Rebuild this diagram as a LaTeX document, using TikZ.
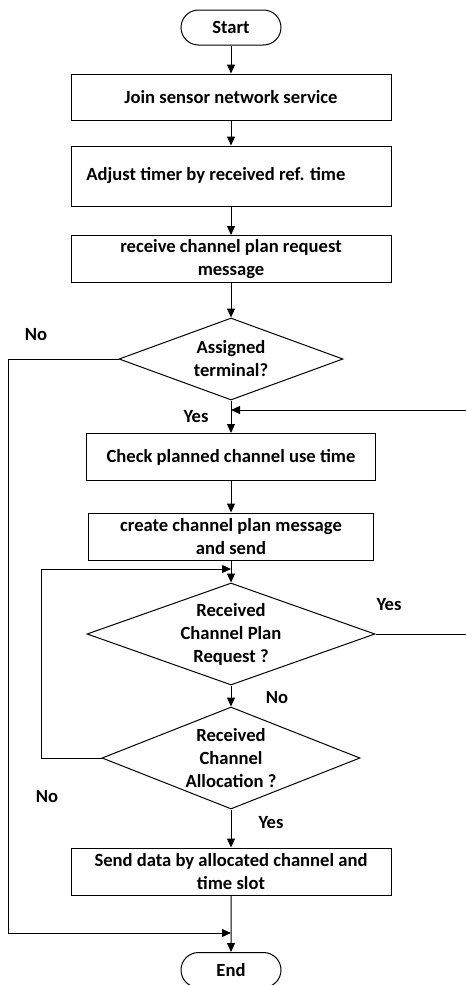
\documentclass[tikz,border=0pt]{standalone}
\usepackage{fontspec}
\setmainfont{Carlito}
\usetikzlibrary{arrows.meta,shapes.geometric,shapes.misc}
\tikzset{
	txt/.style={font=\fontsize{18.6}{23}\selectfont\bfseries, align=center},
	procbox/.style={draw, line width=1pt, txt, inner sep=0pt},
	termbox/.style={draw, line width=1pt, txt, rounded rectangle, inner sep=0pt, minimum width=100pt, minimum height=35pt},
	decbox/.style={draw, line width=1pt, diamond, inner sep=0pt},
	arr/.style={line width=1pt, -{Triangle[length=9pt,width=8pt]}},
	ln/.style={line width=1pt}
}

\begin{document}
\begin{tikzpicture}[x=1pt, y=-1pt]
			%%%%% START %%%%%
			\useasboundingbox (0, 0) rectangle (466, 985);
			
			\node[termbox] (start) at (231, 27.5) {Start};
			\node[procbox, minimum width=320pt, minimum height=46pt] (join) at (231, 97) {Join sensor network service};
			\node[procbox, minimum width=320pt, minimum height=60pt, label={[txt, xshift=-15pt]center:Adjust timer by received ref. time}] (adjust) at (231, 176) {};
			\node[procbox, minimum width=320pt, minimum height=47pt] (recv) at (231, 259) {receive channel plan request\\message};
			
			\node[decbox, minimum width=224pt, minimum height=82pt, label={[txt]center:Assigned\\terminal?}] (assigned) at (231, 359) {};
			
			\node[procbox, minimum width=289pt, minimum height=47pt] (check) at (231, 457) {Check planned channel use time};
			\node[procbox, minimum width=285pt, minimum height=47pt] (create) at (231, 536.5) {create channel plan message\\and send};
			
			\node[decbox, minimum width=288pt, minimum height=102pt, label={[txt]center:Received\\Channel Plan\\Request ?}] (planreq) at (231, 634) {};
			\node[decbox, minimum width=258pt, minimum height=102pt, label={[txt]center:Received\\Channel\\Allocation ?}] (alloc) at (231, 758) {};
			
			\node[procbox, minimum width=320pt, minimum height=47pt] (senddata) at (231, 871.5) {Send data by allocated channel and\\time slot};
			\node[termbox] (end) at (231, 970) {End};
			
			\draw[arr] (start) -- (join);
			\draw[arr] (join) -- (adjust);
			\draw[arr] (adjust) -- (recv);
			\draw[arr] (recv) -- (assigned);
			\draw[arr] (assigned) -- (check);
			\draw[arr] (check) -- (create);
			\draw[arr] (create) -- (planreq);
			\draw[arr] (planreq) -- (alloc);
			\draw[arr] (alloc) -- (senddata);
			\draw[arr] (senddata) -- (end);
			
			% no branches
			\coordinate (nocorner) at (8, 933);
			\coordinate (joinend) at (231, 933);
			\draw[arr] (assigned.west) -| (nocorner) -- (joinend);
			
			\coordinate (loopcorner) at (41, 569);
			\coordinate (joinplan) at (231, 569);
			\draw[arr] (alloc.west) -| (loopcorner) -- (joinplan);
			
			% yes branch, off the right edge
			\coordinate (rightout) at (466, 634);
			\coordinate (rightin) at (466, 410);
			\coordinate (joincheck) at (231, 410);
			\draw[ln] (planreq.east) -- (rightout);
			\draw[arr] (rightin) -- (joincheck);
			
			\node[txt] (no1) at (36, 335) {No};
			\node[txt] (yes1) at (196, 417) {Yes};
			\node[txt] (yes2) at (389, 605) {Yes};
			\node[txt] (no2) at (277, 698) {No};
			\node[txt] (no3) at (47, 797) {No};
			\node[txt] (yes3) at (271, 823) {Yes};
			%%%%% END %%%%%
\end{tikzpicture}
\end{document}
